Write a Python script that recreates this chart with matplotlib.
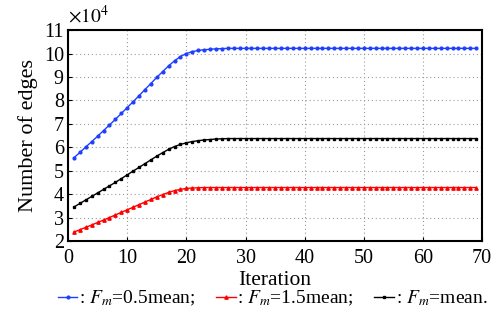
import numpy as np
import matplotlib
matplotlib.use("Agg")
import matplotlib.pyplot as plt
from matplotlib.ticker import FuncFormatter

plt.rcParams["font.family"] = ["Liberation Serif", "DejaVu Serif"]
plt.rcParams["mathtext.fontset"] = "stix"

iters = np.arange(1, 70)

# number of edges (x 1e4)
blue_head = [5.55, 5.78, 6.01, 6.24, 6.47, 6.71, 6.95, 7.19, 7.44, 7.69,
             7.94, 8.20, 8.46, 8.72, 8.98, 9.23, 9.47, 9.69, 9.87, 10.00,
             10.08, 10.13, 10.16, 10.18, 10.20, 10.21]
black_head = [3.45, 3.60, 3.75, 3.90, 4.05, 4.20, 4.35, 4.50, 4.66, 4.82,
              4.98, 5.14, 5.30, 5.46, 5.62, 5.77, 5.91, 6.03, 6.12, 6.19,
              6.24, 6.28, 6.31, 6.33, 6.35, 6.36]
red_head = [2.38, 2.48, 2.58, 2.68, 2.79, 2.89, 3.00, 3.11, 3.22, 3.33,
            3.44, 3.55, 3.66, 3.77, 3.88, 3.98, 4.07, 4.15, 4.20, 4.24,
            4.26, 4.27]
blue_plateau = 10.22
black_plateau = 6.37
red_plateau = 4.28

blue = np.array(blue_head + [blue_plateau] * (69 - len(blue_head))) * 1e4
black = np.array(black_head + [black_plateau] * (69 - len(black_head))) * 1e4
red = np.array(red_head + [red_plateau] * (69 - len(red_head))) * 1e4

fig = plt.figure(figsize=(4.93, 3.2), dpi=100)
ax = fig.add_axes([0.138, 0.247, 0.840, 0.659])

ax.plot(iters, blue, "-o", color="#1f3fff", lw=1.0, ms=2.0, label=r": $F_m$=0.5mean;")
ax.plot(iters, red, "-^", color="#ff0000", lw=1.0, ms=2.4, label=r": $F_m$=1.5mean;")
ax.plot(iters, black, "-s", color="black", lw=1.0, ms=2.0, label=r": $F_m$=mean.")

ax.set_xlim(0, 70)
ax.set_ylim(2e4, 11e4)
ax.set_xticks(np.arange(0, 71, 10))
ax.set_yticks(np.arange(2e4, 11.1e4, 1e4))
ax.yaxis.set_major_formatter(FuncFormatter(lambda v, p: f"{v / 1e4:g}"))
ax.text(0.0, 1.015, r"$\times10^4$", transform=ax.transAxes, fontsize=14,
        ha="left", va="bottom")

ax.grid(True, color="#999999", linestyle=(0, (1, 2.5)), lw=0.8)
ax.tick_params(direction="in", labelsize=14.5, length=3, width=0.8)
ax.tick_params(axis="x", pad=6)
ax.tick_params(axis="y", pad=3)
for s in ax.spines.values():
    s.set_linewidth(1.5)

ax.set_xlabel("Iteration", fontsize=15.5, labelpad=2)
ax.set_ylabel("Number of edges", fontsize=16, labelpad=4)

fig.legend(loc="center", bbox_to_anchor=(0.553, 0.068), ncol=3, frameon=False,
           fontsize=14, handlelength=1.0, handletextpad=0.1, columnspacing=1.05,
           borderaxespad=0)

fig.savefig("out.png", dpi=100)
